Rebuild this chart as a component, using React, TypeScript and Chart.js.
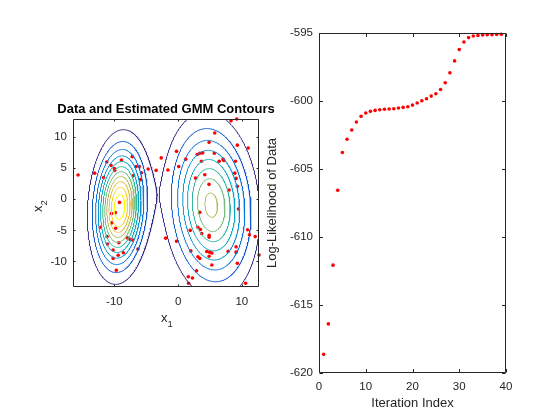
import { useEffect, useRef } from 'react'
import { Chart, registerables } from 'chart.js'

Chart.register(...registerables)

const FONT = "'Liberation Sans', Arial, Helvetica, sans-serif"
const AXIS = '#262626'
const DOT = '#ff0000'

// samples drawn in the left panel (x1, x2)
const SAMPLE_X1 = [
  -15.7, -13.1, -11.7, -11.2, -10.55, -10.0, -9.95, -8.9, -7.2, -6.6, -6.1, -5.75, -7.0, -5.9,
  -4.7, -3.45, -2.65, -1.6, -9.2, -9.85, -10.45, -10.45, -9.8, -12.2, -11.15, -8.0, -7.55, -7.15,
  -9.3, -11.1, -8.6, -10.2, -6.3, -9.4, -10.2, -9.7, -1.95,
  -0.25, 0.1, 1.2, 3.0, 3.4, 3.85, 3.67, 4.87, 5.75, 5.7, 6.45, 7.07, 7.17, 8.3, 9.2, 9.0, 9.3,
  11.0, 2.73, 4.19, 4.85, 8.9, 9.1, 9.3, 8.0, 9.48, 3.4, -0.25, 1.9, 3.1, 3.5, 3.7, 4.87, 4.87,
  2.0, 3.1, 3.4, 4.5, 4.95, 5.3, 4.87, 5.3, 7.85, 9.1, 9.1, 9.3, 10.9, 11.2, 12.1, 12.7, 2.9,
  1.6, 2.25, 1.65, 10.6,
]
const SAMPLE_X2 = [
  3.9, 4.2, 3.5, 6.0, 5.45, 4.95, 4.65, 6.3, 6.85, 5.25, 5.25, 4.25, 3.8, 3.15,
  4.87, 4.65, 6.65, 4.7, -0.5, -2.15, -2.3, -3.8, -4.65, -4.5, -6.0, -6.2, -6.45, -6.55,
  -7.0, -7.2, -8.6, -8.15, -8.0, -9.0, -9.5, -11.4, -6.25,
  7.7, 5.25, 6.45, 7.2, 7.4, 7.45, 6.1, 9.15, 10.65, 7.4, 6.1, 6.45, 6.25, 12.6, 12.9, 6.1, 8.7,
  8.25, 3.4, 3.95, 2.4, 4.2, 3.35, 2.1, 1.5, -1.56, -2.1, -6.75, -5.0, -4.5, -4.85, -5.5, -5.8, -6.1,
  -8.3, -9.25, -9.5, -8.4, -8.5, -8.65, -9.16, -10.56, -8.38, -7.65, -8.5, -10.3, -4.9, -5.7, -6.0, -8.96, -11.5,
  -12.45, -12.65, -13.5, -13.5,
]

// estimated two-component mixture
const GMM_WEIGHT = [0.4, 0.6]
const GMM_MU_X = [-9.2, 5.2]
const GMM_MU_Y = [-1.25, -0.95]
const GMM_VAR_X = [5.18, 13.69]
const GMM_VAR_Y = [31.36, 53.29]
const GMM_COV_XY = [1.5, -3.0]
const CONTOUR_LEVELS = [
  0.000429, 0.000858, 0.001287, 0.001716, 0.002145, 0.002574, 0.003003, 0.003432, 0.003861, 0.00429,
  0.004719,
]

const X1_RANGE = [-16.5, 12.7]
const X2_RANGE = [-14.1, 12.9]
const X1_TICKS = [-10, 0, 10]
const X2_TICKS = [-10, -5, 0, 5, 10]

// EM iterations
const ITERATIONS = [
  1, 2, 3, 4, 5, 6, 7, 8, 9, 10, 11, 12, 13, 14, 15, 16, 17, 18, 19, 20,
  21, 22, 23, 24, 25, 26, 27, 28, 29, 30, 31, 32, 33, 34, 35, 36, 37, 38, 39,
]
const LOG_LIKELIHOOD = [
  -618.63, -616.39, -612.07, -606.57, -603.79, -602.81, -602.13, -601.54, -601.13, -600.88,
  -600.76, -600.69, -600.64, -600.61, -600.59, -600.57, -600.52, -600.47, -600.42, -600.3,
  -600.15, -599.98, -599.83, -599.64, -599.47, -599.15, -598.66, -597.93, -597.05, -596.22,
  -595.66, -595.34, -595.22, -595.18, -595.15, -595.13, -595.12, -595.11, -595.1,
]
const ITER_TICKS = [0, 10, 20, 30, 40]
const LL_TICKS = [-620, -615, -610, -605, -600, -595]

// parula colormap samples (index out of 63)
const PARULA_POS = [0, 8, 16, 24, 32, 40, 48, 56, 63]
const PARULA_RGB = [
  [0.2081, 0.1663, 0.5292],
  [0.0117, 0.3875, 0.882],
  [0.0793, 0.52, 0.8312],
  [0.0228, 0.6535, 0.7768],
  [0.2178, 0.725, 0.6193],
  [0.5709, 0.7485, 0.4494],
  [0.8507, 0.7299, 0.336],
  [0.988, 0.8066, 0.1794],
  [0.9763, 0.9831, 0.0538],
]

function parula(t: number) {
  const p = Math.max(0, Math.min(1, t)) * 63
  let k = 0
  while (k < PARULA_POS.length - 2 && p > PARULA_POS[k + 1]) k++
  const f = (p - PARULA_POS[k]) / (PARULA_POS[k + 1] - PARULA_POS[k])
  const c = PARULA_RGB[k].map((v, i) => Math.round(255 * (v + f * (PARULA_RGB[k + 1][i] - v))))
  return `rgb(${c[0]},${c[1]},${c[2]})`
}

function gmmDensity(x: number, y: number) {
  let s = 0
  for (let k = 0; k < GMM_WEIGHT.length; k++) {
    const a = GMM_VAR_X[k], b = GMM_COV_XY[k], c = GMM_VAR_Y[k]
    const det = a * c - b * b
    const dx = x - GMM_MU_X[k], dy = y - GMM_MU_Y[k]
    const q = (c * dx * dx - 2 * b * dx * dy + a * dy * dy) / det
    s += (GMM_WEIGHT[k] * Math.exp(-q / 2)) / (2 * Math.PI * Math.sqrt(det))
  }
  return s
}

type Pt = { x: number; y: number }
type Edge = [string, Pt]

// marching squares, then chain the segments into polylines
function contourPaths(level: number, xs: number[], ys: number[], z: number[][]) {
  const segs: { a: string; b: string; pa: Pt; pb: Pt }[] = []
  const push = (e1: Edge, e2: Edge) => segs.push({ a: e1[0], b: e2[0], pa: e1[1], pb: e2[1] })
  const cut = (x0: number, y0: number, v0: number, x1: number, y1: number, v1: number): Pt => {
    const t = (level - v0) / (v1 - v0)
    return { x: x0 + t * (x1 - x0), y: y0 + t * (y1 - y0) }
  }
  for (let j = 0; j < ys.length - 1; j++) {
    for (let i = 0; i < xs.length - 1; i++) {
      const v00 = z[j][i], v10 = z[j][i + 1], v01 = z[j + 1][i], v11 = z[j + 1][i + 1]
      const s00 = v00 >= level, s10 = v10 >= level, s01 = v01 >= level, s11 = v11 >= level
      const e: Record<string, Edge> = {}
      if (s00 !== s10) e.b = [`h${i},${j}`, cut(xs[i], ys[j], v00, xs[i + 1], ys[j], v10)]
      if (s10 !== s11) e.r = [`v${i + 1},${j}`, cut(xs[i + 1], ys[j], v10, xs[i + 1], ys[j + 1], v11)]
      if (s01 !== s11) e.t = [`h${i},${j + 1}`, cut(xs[i], ys[j + 1], v01, xs[i + 1], ys[j + 1], v11)]
      if (s00 !== s01) e.l = [`v${i},${j}`, cut(xs[i], ys[j], v00, xs[i], ys[j + 1], v01)]
      const keys = Object.keys(e)
      if (keys.length === 2) push(e[keys[0]], e[keys[1]])
      else if (keys.length === 4) {
        const centre = (v00 + v10 + v01 + v11) / 4 >= level
        if (s00 === centre) { push(e.b, e.r); push(e.t, e.l) } else { push(e.l, e.b); push(e.r, e.t) }
      }
    }
  }
  const ends = new Map<string, number[]>()
  segs.forEach((s, n) => {
    for (const key of [s.a, s.b]) {
      const list = ends.get(key)
      if (list) list.push(n)
      else ends.set(key, [n])
    }
  })
  const used = new Uint8Array(segs.length)
  const paths: Pt[][] = []
  for (let s0 = 0; s0 < segs.length; s0++) {
    if (used[s0]) continue
    used[s0] = 1
    const path = [segs[s0].pa, segs[s0].pb]
    let key = segs[s0].b
    for (;;) {
      const next = (ends.get(key) || []).find((n) => !used[n])
      if (next === undefined) break
      used[next] = 1
      const sg = segs[next]
      if (sg.a === key) { path.push(sg.pb); key = sg.b } else { path.push(sg.pa); key = sg.a }
    }
    key = segs[s0].a
    for (;;) {
      const next = (ends.get(key) || []).find((n) => !used[n])
      if (next === undefined) break
      used[next] = 1
      const sg = segs[next]
      if (sg.a === key) { path.unshift(sg.pb); key = sg.b } else { path.unshift(sg.pa); key = sg.a }
    }
    paths.push(path)
  }
  return paths
}

function contourDatasets() {
  const step = 0.1
  const xs: number[] = []
  const ys: number[] = []
  for (let x = X1_RANGE[0] - 1; x <= X1_RANGE[1] + 1; x += step) xs.push(x)
  for (let y = X2_RANGE[0] - 1; y <= X2_RANGE[1] + 1; y += step) ys.push(y)
  const z = ys.map((y) => xs.map((x) => gmmDensity(x, y)))
  const lo = CONTOUR_LEVELS[0]
  const hi = CONTOUR_LEVELS[CONTOUR_LEVELS.length - 1]
  const sets: any[] = []
  CONTOUR_LEVELS.forEach((level) => {
    const colour = parula((level - lo) / (hi - lo))
    for (const path of contourPaths(level, xs, ys, z)) {
      sets.push({
        data: path,
        showLine: true,
        pointRadius: 0,
        borderColor: colour,
        borderWidth: 1,
        tension: 0,
        clip: 0,
        order: 0,
      })
    }
  })
  return sets
}

const matlabAxes = {
  id: 'matlabAxes',
  afterDatasetsDraw(chart: Chart, _args: unknown, opts: { tick: number }) {
    const { ctx, chartArea: a } = chart
    const xs = chart.scales.x
    const ys = chart.scales.y
    const L = Math.round(a.left) + 0.5
    const R = Math.round(a.right) - 0.5
    const T = Math.round(a.top) + 0.5
    const B = Math.round(a.bottom) - 0.5
    ctx.save()
    ctx.strokeStyle = AXIS
    ctx.lineWidth = 1
    ctx.beginPath()
    ctx.rect(L, T, R - L, B - T)
    for (const t of xs.ticks) {
      const p = Math.round(xs.getPixelForValue(t.value)) + 0.5
      ctx.moveTo(p, B); ctx.lineTo(p, B - opts.tick)
      ctx.moveTo(p, T); ctx.lineTo(p, T + opts.tick)
    }
    for (const t of ys.ticks) {
      const p = Math.round(ys.getPixelForValue(t.value)) + 0.5
      ctx.moveTo(L, p); ctx.lineTo(L + opts.tick, p)
      ctx.moveTo(R, p); ctx.lineTo(R - opts.tick, p)
    }
    ctx.stroke()
    ctx.restore()
  },
}

function drawSubscripted(ctx: CanvasRenderingContext2D, base: string, sub: string, cx: number, baseline: number) {
  ctx.font = `13px ${FONT}`
  const w1 = ctx.measureText(base).width
  ctx.font = `9.5px ${FONT}`
  const w2 = ctx.measureText(sub).width
  const x0 = cx - (w1 + w2) / 2
  ctx.font = `13px ${FONT}`
  ctx.fillText(base, x0, baseline)
  ctx.font = `9.5px ${FONT}`
  ctx.fillText(sub, x0 + w1, baseline + 4.5)
}

// title and the subscripted axis labels of the left panel
const panelLabels = {
  id: 'panelLabels',
  afterDraw(chart: Chart) {
    const { ctx, chartArea: a } = chart
    const cx = (a.left + a.right) / 2
    ctx.save()
    ctx.fillStyle = '#000'
    ctx.textAlign = 'center'
    ctx.textBaseline = 'alphabetic'
    ctx.font = `bold 13px ${FONT}`
    ctx.fillText('Data and Estimated GMM Contours', cx, a.top - 6)
    ctx.fillStyle = AXIS
    ctx.textAlign = 'left'
    drawSubscripted(ctx, 'x', '1', cx + 1, a.bottom + 35)
    ctx.translate(a.left - 31, (a.top + a.bottom) / 2 + 3)
    ctx.rotate(-Math.PI / 2)
    drawSubscripted(ctx, 'x', '2', 0, 0)
    ctx.restore()
  },
}

const fixedTicks = (values: number[]) => (scale: any) => {
  scale.ticks = values.map((value) => ({ value }))
}

function axis(range: number[], ticks: number[], size: { w?: number; h?: number }, pad: number, extra: object = {}) {
  return {
    type: 'linear' as const,
    min: range[0],
    max: range[1],
    grid: { display: false, drawTicks: false },
    border: { display: false },
    ticks: { padding: pad, color: AXIS, font: { size: 11.5, family: FONT }, callback: (v: any) => String(v) },
    afterBuildTicks: fixedTicks(ticks),
    afterFit: (s: any) => {
      if (size.w !== undefined) s.width = size.w
      if (size.h !== undefined) s.height = size.h
    },
    ...extra,
  }
}

export default function App() {
  const leftRef = useRef<HTMLCanvasElement>(null)
  const rightRef = useRef<HTMLCanvasElement>(null)

  useEffect(() => {
    if (!leftRef.current || !rightRef.current) return
    Chart.defaults.font.family = FONT
    Chart.defaults.color = AXIS

    const left = new Chart(leftRef.current, {
      type: 'scatter',
      data: {
        datasets: [
          {
            data: SAMPLE_X1.map((x, i) => ({ x, y: SAMPLE_X2[i] })),
            pointRadius: 1.8,
            pointBackgroundColor: DOT,
            pointBorderWidth: 0,
            clip: false,
            order: 1,
          },
          ...contourDatasets(),
        ],
      },
      options: {
        responsive: false,
        animation: false,
        events: [],
        layout: { padding: { left: 0, right: 301, top: 119, bottom: 0 } },
        scales: {
          x: axis(X1_RANGE, X1_TICKS, { h: 133 }, 7.5),
          y: axis(X2_RANGE, X2_TICKS, { w: 73 }, 6),
        },
        plugins: {
          legend: { display: false },
          tooltip: { enabled: false },
          matlabAxes: { tick: 2 },
        } as any,
      },
      plugins: [matlabAxes, panelLabels],
    })

    const right = new Chart(rightRef.current, {
      type: 'scatter',
      data: {
        datasets: [
          {
            data: ITERATIONS.map((x, i) => ({ x, y: LOG_LIKELIHOOD[i] })),
            pointRadius: 1.8,
            pointBackgroundColor: DOT,
            pointBorderWidth: 0,
            clip: false,
          },
        ],
      },
      options: {
        responsive: false,
        animation: false,
        events: [],
        layout: { padding: { left: 265, right: 54, top: 33, bottom: 0 } },
        scales: {
          x: axis([0, 40], ITER_TICKS, { h: 47 }, 7, {
            title: { display: true, text: 'Iteration Index', color: AXIS, font: { size: 13, family: FONT }, padding: { top: 0, bottom: 9 } },
          }),
          y: axis([-620, -595], LL_TICKS, { w: 54 }, 6, {
            title: { display: true, text: 'Log-Likelihood of Data', color: AXIS, font: { size: 13, family: FONT }, padding: { top: 0, bottom: 0 } },
          }),
        },
        plugins: {
          legend: { display: false },
          tooltip: { enabled: false },
          matlabAxes: { tick: 3.5 },
        } as any,
      },
      plugins: [matlabAxes],
    })

    return () => {
      left.destroy()
      right.destroy()
    }
  }, [])

  return (
    <div style={{ position: 'absolute', left: 0, top: 0, width: 560, height: 420, background: '#fff' }}>
      <canvas ref={leftRef} width={560} height={420} style={{ position: 'absolute', left: 0, top: 0 }} />
      <canvas ref={rightRef} width={560} height={420} style={{ position: 'absolute', left: 0, top: 0 }} />
    </div>
  )
}
